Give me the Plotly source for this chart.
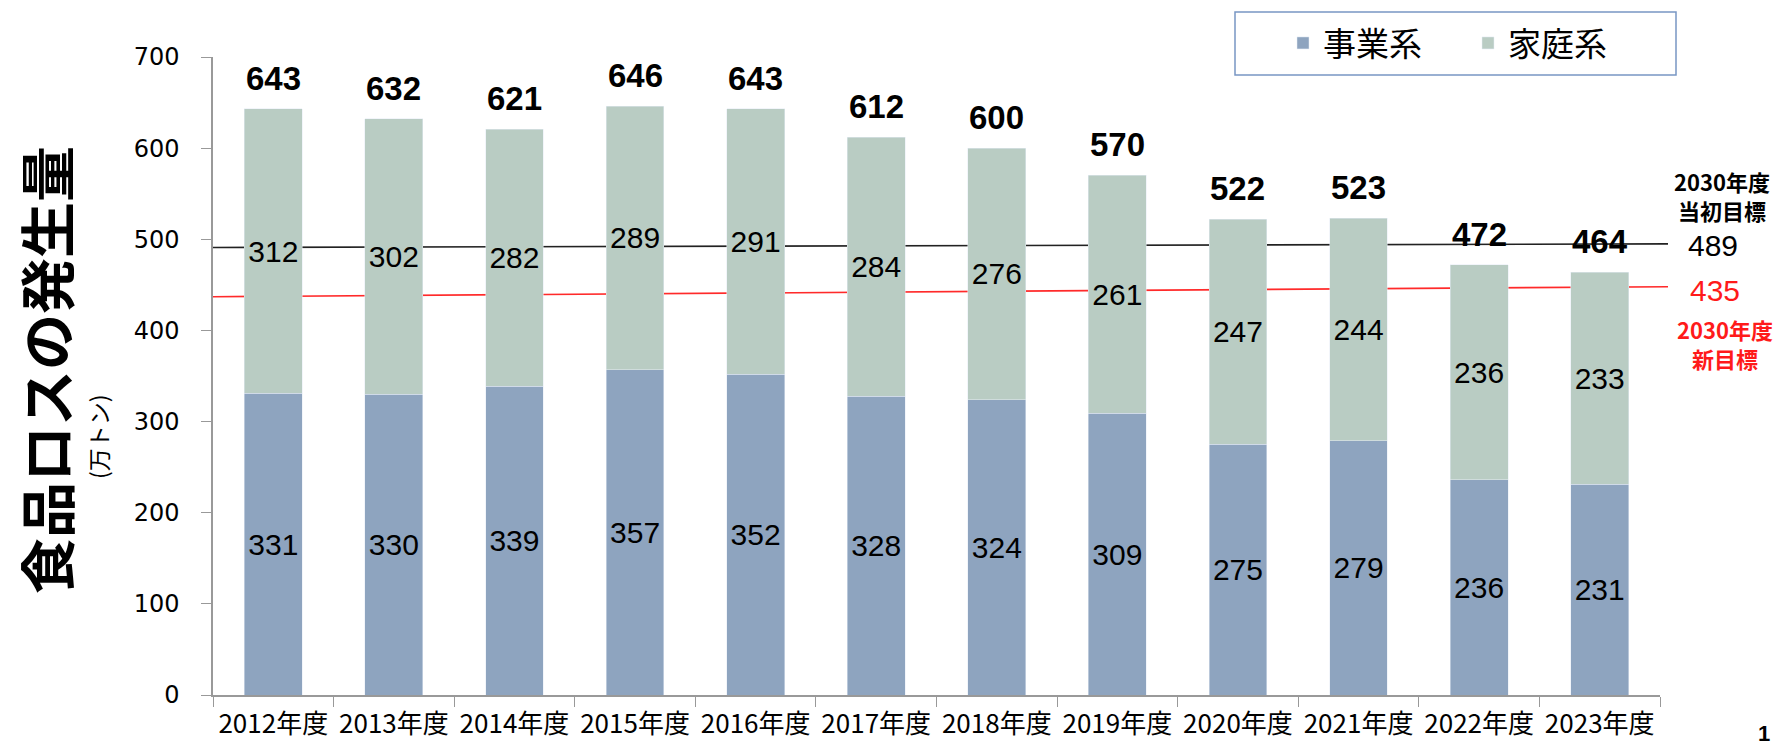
import plotly.graph_objects as go

# ---- data ----
years = ["2012年度", "2013年度", "2014年度", "2015年度", "2016年度", "2017年度",
         "2018年度", "2019年度", "2020年度", "2021年度", "2022年度", "2023年度"]
business = [331, 330, 339, 357, 352, 328, 324, 309, 275, 279, 236, 231]   # 事業系
household = [312, 302, 282, 289, 291, 284, 276, 261, 247, 244, 236, 233]  # 家庭系
totals = [643, 632, 621, 646, 643, 612, 600, 570, 522, 523, 472, 464]

target_initial = 489   # 2030年度 当初目標
target_new = 435       # 2030年度 新目標
# target lines as drawn in the picture (left end, right end)
initial_line_ends = [491, 495]
new_line_ends = [437, 448]

C_BUS = "#8EA4BF"
C_HOME = "#B9CCC3"
JP = "Noto Sans CJK JP"
NUM = "Liberation Sans"

W, H = 1781, 747
L, R, T, B = 213, 121, 57, 52
pw, ph = W - L - R, H - T - B


def px(x):
    return (x - L) / pw


def py(y):
    return (H - B - y) / ph


fig = go.Figure()
fig.add_trace(go.Bar(
    x=years, y=business, name="事業系", marker_color=C_BUS,
    text=[str(v) for v in business], textposition="inside",
    insidetextanchor="middle", constraintext="none", textangle=0,
    textfont=dict(family=NUM, size=30, color="black"),
))
fig.add_trace(go.Bar(
    x=years, y=household, name="家庭系", marker_color=C_HOME,
    text=[str(v) for v in household], textposition="inside",
    insidetextanchor="middle", constraintext="none", textangle=0,
    textfont=dict(family=NUM, size=30, color="black"),
))

# target lines (behind bars)
fig.add_shape(type="line", xref="paper", yref="y", x0=0, x1=px(1668),
              y0=initial_line_ends[0], y1=initial_line_ends[1],
              line=dict(color="#222222", width=1.6), layer="below")
fig.add_shape(type="line", xref="paper", yref="y", x0=0, x1=px(1668),
              y0=new_line_ends[0], y1=new_line_ends[1],
              line=dict(color="#ff2a2a", width=1.6), layer="below")

# totals
for x, t in zip(years, totals):
    fig.add_annotation(x=x, y=t, text=f"<b>{t}</b>", showarrow=False,
                       xanchor="center", yanchor="bottom", yshift=10,
                       font=dict(family=NUM, size=33, color="black"))


def note(xp, yp, text, size, color="black", family=JP, angle=0):
    fig.add_annotation(xref="paper", yref="paper", x=px(xp), y=py(yp),
                       xanchor="center", yanchor="middle", text=text,
                       showarrow=False, textangle=angle,
                       font=dict(family=family, size=size, color=color))


# right-hand target texts
note(1722, 195, "<b>2030年度<br>当初目標</b>", 22)
note(1713, 245, str(target_initial), 30, family=NUM)
note(1715, 290, str(target_new), 30, color="#ff1a1a", family=NUM)
note(1725, 343, "<b>2030年度<br>新目標</b>", 22, color="#ff1a1a")

# axis titles
note(45, 370, "<b>食品ロスの発生量</b>", 56, angle=-90)
note(98, 437, "(万トン)", 23, angle=-90)

# page number
note(1764, 733, "<b>1</b>", 22, family=NUM)

# legend box
fig.add_shape(type="rect", xref="paper", yref="paper",
              x0=px(1235), x1=px(1676), y0=py(75), y1=py(12),
              line=dict(color="#7896c4", width=1.5), fillcolor="white", layer="below")

fig.update_layout(
    width=W, height=H,
    margin=dict(l=L, r=R, t=T, b=B, autoexpand=False),
    paper_bgcolor="white", plot_bgcolor="rgba(0,0,0,0)",
    barmode="stack", bargap=0.52,
    showlegend=True,
    legend=dict(orientation="h", x=px(1283), xanchor="left", y=py(43), yanchor="middle",
                traceorder="normal", font=dict(family=JP, size=33, color="black"),
                bgcolor="rgba(0,0,0,0)", entrywidth=140),
    xaxis=dict(showline=True, linecolor="#999999", linewidth=1.5,
               ticks="outside", tickson="boundaries", ticklen=10, tickcolor="#999999",
               tickfont=dict(family=JP, size=26, color="black"), showgrid=False,
               range=[-0.5, 11.5], ticklabelstandoff=5),
    yaxis=dict(range=[0, 700], dtick=100, showline=True, linecolor="#999999", linewidth=1.5,
               ticks="outside", ticklen=10, tickcolor="#999999", showgrid=False, zeroline=False,
               tickfont=dict(family="DejaVu Sans", size=24, color="black"),
               ticklabelstandoff=17),
)

fig.write_html("out.html", config={"displayModeBar": False},
               post_script="document.body.style.margin='0';")
